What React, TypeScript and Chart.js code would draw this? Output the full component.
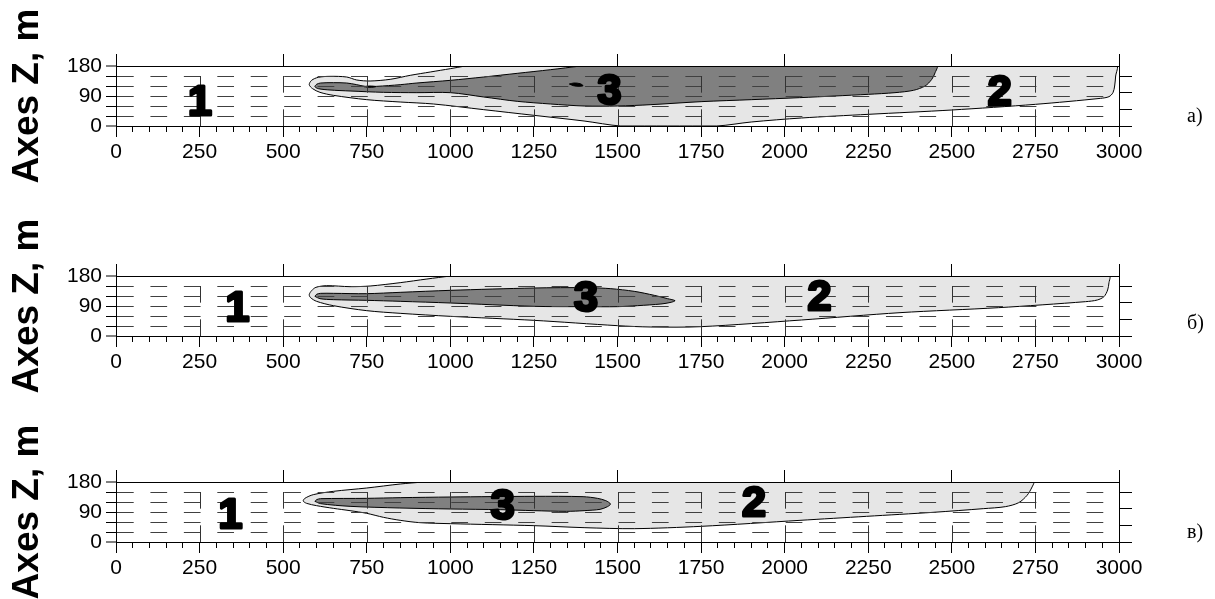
import React, { useEffect, useRef } from 'react';
import { Chart, registerables } from 'chart.js';

Chart.register(...registerables);

// ---------- axes ----------
const X_MIN = 0;
const X_MAX = 3000;
const Z_MIN = 0;
const Z_MAX = 180;
const X_MINOR_STEP = 50;
const X_MAJOR_STEP = 250;
const X_TOP_STEP = 500;
const Z_STEP = 30;
const Z_RIGHT_STEP = 50;
const DASH_UNITS = 50;
const X_LABELED = [0, 250, 500, 750, 1000, 1250, 1500, 1750, 2000, 2250, 2500, 2750, 3000];
const X_GRID = [250, 500, 750, 1000, 1250, 1500, 1750, 2000, 2250, 2500, 2750];
const Z_LABELED = [0, 90, 180];
const Y_TITLE = 'Axes Z, m';
const PANEL_NAMES = ['a)', 'б)', 'в)'];
const REGION_NAMES = ['1', '3', '2'];

// ---------- panel a ----------
const aLightX = [1045, 1700, 2400, 2993, 2990, 2987, 2982, 2970, 2945, 2750, 2500, 2250, 2050, 1900, 1797, 1650, 1510, 1400, 1250, 1100, 950, 850, 750, 650, 610, 588, 578, 585, 605, 640, 690, 720, 760, 820, 880, 940, 1000, 1045];
const aLightY = [180, 180, 180, 180, 150, 120, 100, 88, 83, 65, 48, 35, 24, 12, 0, 0, 0, 15, 32, 49, 66, 72, 79, 92, 101, 112, 124, 137, 146, 149, 147, 138, 135, 140, 152, 162, 172, 180];
const aDarkX = [1390, 1900, 2455, 2450, 2440, 2420, 2385, 2330, 2250, 2150, 2045, 1900, 1750, 1600, 1500, 1400, 1300, 1200, 1100, 1000, 900, 800, 700, 640, 605, 595, 600, 612, 650, 690, 720, 745, 780, 850, 900, 1000, 1100, 1200, 1300, 1390];
const aDarkY = [180, 180, 180, 160, 140, 120, 107, 100, 95, 90, 85, 79, 73, 64, 60, 60, 66, 74, 87, 100, 100, 101, 105, 108, 112, 118, 125, 129, 130, 129, 124, 119, 119, 124, 129, 137, 147, 158, 169, 180];
const aBlob1X = [742, 760, 777, 760, 742];
const aBlob1Y = [118, 120, 118, 116, 118];
const aBlob2X = [1356, 1370, 1388, 1397, 1385, 1368, 1356];
const aBlob2Y = [126, 129, 127, 121, 119, 121, 126];
const aLabelX = [251, 1476, 2643];
const aLabelY = [80, 113, 108];

// ---------- panel б ----------
const bLightX = [1000, 2000, 2971, 2970, 2966, 2955, 2935, 2900, 2640, 2345, 2050, 1750, 1600, 1500, 1250, 1000, 850, 750, 650, 600, 582, 578, 585, 598, 630, 700, 760, 850, 930, 1000];
const bLightY = [180, 180, 180, 160, 138, 118, 108, 103, 85, 70, 48, 28, 27, 31, 47, 59, 68, 76, 91, 104, 115, 124, 136, 146, 151, 148, 150, 160, 171, 180];
const bDarkX = [595, 600, 612, 650, 750, 850, 1000, 1250, 1410, 1480, 1550, 1610, 1650, 1672, 1660, 1630, 1560, 1500, 1400, 1250, 1000, 850, 750, 650, 610, 595];
const bDarkY = [119, 125, 128, 128, 127, 131, 137, 144, 145, 142, 134, 122, 112, 106, 101, 96, 91, 88, 88, 89, 99, 104, 107, 109, 112, 119];
const bLabelX = [363, 1406, 2104];
const bLabelY = [91, 121, 123];

// ---------- panel в ----------
const cLightX = [920, 1800, 2744, 2740, 2725, 2700, 2660, 2594, 2444, 2245, 2046, 1750, 1550, 1400, 1250, 1000, 909, 850, 800, 750, 700, 650, 600, 570, 560, 565, 590, 650, 750, 850, 920];
const cLightY = [180, 180, 180, 165, 140, 118, 106, 100, 89, 77, 65, 47, 40, 43, 49, 55, 58, 65, 74, 86, 94, 101, 109, 116, 123, 131, 142, 152, 162, 174, 180];
const cDarkX = [595, 600, 612, 750, 850, 1000, 1250, 1397, 1440, 1465, 1479, 1470, 1448, 1400, 1348, 1250, 1149, 1000, 849, 700, 612, 595];
const cDarkY = [122, 127, 130, 131, 133, 135, 137, 136, 131, 124, 114, 106, 98, 94, 92, 94, 97, 99, 102, 107, 115, 122];
const cLabelX = [342, 1157, 1908];
const cLabelY = [88, 115, 124];

// ---------- styling / layout ----------
const LIGHT = '#e6e6e6';
const DARK = '#808080';
const GRID_COLOR = '#404040';
const VGRID_COLOR = '#333333';
const PAGE_W = 1215;
const AREA_LEFT = 116;
const AREA_RIGHT = 1119;
const LETTER_X = 1187;

const PANELS = [
  { top: 0, height: 200, areaTop: 66, areaBottom: 126, letterUp: 9.5 },
  { top: 200, height: 200, areaTop: 76, areaBottom: 136, letterUp: 12.5 },
  { top: 400, height: 199, areaTop: 82, areaBottom: 142, letterUp: 9.5 },
];

const zip = (xs: number[], ys: number[]) => xs.map((x, i) => ({ x, y: ys[i] }));

const PANEL_DATA = [
  {
    regions: [
      { xs: aLightX, ys: aLightY, color: LIGHT, order: 3 },
      { xs: aDarkX, ys: aDarkY, color: DARK, order: 2 },
      { xs: aBlob1X, ys: aBlob1Y, color: '#000', order: 1 },
      { xs: aBlob2X, ys: aBlob2Y, color: '#000', order: 1 },
    ],
    labelX: aLabelX,
    labelY: aLabelY,
  },
  {
    regions: [
      { xs: bLightX, ys: bLightY, color: LIGHT, order: 3 },
      { xs: bDarkX, ys: bDarkY, color: DARK, order: 2 },
    ],
    labelX: bLabelX,
    labelY: bLabelY,
  },
  {
    regions: [
      { xs: cLightX, ys: cLightY, color: LIGHT, order: 3 },
      { xs: cDarkX, ys: cDarkY, color: DARK, order: 2 },
    ],
    labelX: cLabelX,
    labelY: cLabelY,
  },
];

const isMultiple = (v: number, step: number) => Math.abs(v / step - Math.round(v / step)) < 1e-6;

function buildConfig(index: number) {
  const layout = PANELS[index];
  const pdata = PANEL_DATA[index];
  const tickFont = { family: '"Liberation Sans", Arial, sans-serif', size: 21 };

  const isGridY = (c: any) => c && c.tick && c.tick.value > Z_MIN && c.tick.value < Z_MAX;

  const xUnitPx = (c: any, units: number) => {
    const xs = c.chart.scales.x;
    if (!xs) return 0;
    return Math.abs(xs.getPixelForValue(units) - xs.getPixelForValue(0));
  };

  const overlayPlugin = {
    id: 'panelOverlay' + index,
    afterDraw(chart: any) {
      const { ctx, chartArea, scales } = chart;
      const xs = scales.x;
      const ys = scales.y;

      // vertical dashed grid lines (dashes start at z = 0, drawn upward)
      const h = Math.abs(ys.getPixelForValue(Z_MIN) - ys.getPixelForValue(Z_MIN + DASH_UNITS));
      ctx.save();
      ctx.strokeStyle = VGRID_COLOR;
      ctx.lineWidth = 1;
      ctx.setLineDash([h, h]);
      ctx.lineDashOffset = 0;
      X_GRID.forEach((gx) => {
        const px = Math.round(xs.getPixelForValue(gx)) + 0.5;
        ctx.beginPath();
        ctx.moveTo(px, ys.getPixelForValue(Z_MIN));
        ctx.lineTo(px, ys.getPixelForValue(Z_MAX));
        ctx.stroke();
      });
      ctx.restore();

      // axis title
      ctx.save();
      ctx.fillStyle = '#000';
      ctx.font = 'bold 37px "Liberation Sans", Arial, sans-serif';
      ctx.textAlign = 'center';
      ctx.textBaseline = 'alphabetic';
      ctx.translate(38, (chartArea.top + chartArea.bottom) / 2);
      ctx.rotate(-Math.PI / 2);
      ctx.fillText(Y_TITLE, 0, 0);
      ctx.restore();

      // region numbers
      ctx.save();
      ctx.fillStyle = '#000';
      ctx.strokeStyle = '#000';
      ctx.lineWidth = 3;
      ctx.lineJoin = 'round';
      const size = 43;
      ctx.font = `bold ${size}px "Liberation Sans", Arial, sans-serif`;
      ctx.textAlign = 'center';
      ctx.textBaseline = 'alphabetic';
      REGION_NAMES.forEach((name, i) => {
        const px = xs.getPixelForValue(pdata.labelX[i]);
        const py = ys.getPixelForValue(pdata.labelY[i]) + size * 0.358;
        ctx.strokeText(name, px, py);
        ctx.fillText(name, px, py);
      });
      ctx.restore();

      // panel letter
      ctx.save();
      ctx.fillStyle = '#000';
      ctx.font = '20px "Liberation Serif", "Times New Roman", serif';
      ctx.textAlign = 'left';
      ctx.textBaseline = 'middle';
      ctx.fillText(PANEL_NAMES[index], LETTER_X, chartArea.bottom - layout.letterUp);
      ctx.restore();
    },
  };

  const regionSets = pdata.regions.map((r) => ({
    type: 'line',
    data: zip(r.xs, r.ys),
    borderColor: '#000',
    borderWidth: 1,
    backgroundColor: r.color,
    fill: 'shape',
    pointRadius: 0,
    pointHoverRadius: 0,
    tension: 0.3,
    order: r.order,
  }));

  return {
    type: 'line',
    data: { datasets: regionSets },
    options: {
      responsive: false,
      maintainAspectRatio: false,
      animation: false,
      devicePixelRatio: 1,
      events: [],
      layout: { padding: 0 },
      plugins: {
        legend: { display: false },
        tooltip: { enabled: false },
        title: { display: false },
      },
      scales: {
        x: {
          type: 'linear',
          position: 'bottom',
          min: X_MIN,
          max: X_MAX,
          afterFit: (s: any) => {
            s.height = layout.height - layout.areaBottom;
          },
          ticks: {
            stepSize: X_MINOR_STEP,
            autoSkip: false,
            maxRotation: 0,
            minRotation: 0,
            padding: 3,
            color: '#000',
            font: tickFont,
            callback: (v: any) => (X_LABELED.includes(Number(v)) ? String(v) : ''),
          },
          grid: {
            display: true,
            drawOnChartArea: false,
            drawTicks: true,
            z: 1,
            tickLength: 11,
            color: '#000',
            lineWidth: 1,
            tickColor: '#000',
            tickWidth: 1,
            tickBorderDash: (c: any) => (c.tick && isMultiple(c.tick.value, X_MAJOR_STEP) ? [] : [5, 40]),
          },
          border: { display: true, color: '#000', width: 1, z: 2 },
        },
        x2: {
          type: 'linear',
          position: 'top',
          min: X_MIN,
          max: X_MAX,
          afterFit: (s: any) => {
            s.height = layout.areaTop;
          },
          ticks: { display: false, stepSize: X_TOP_STEP },
          grid: {
            drawOnChartArea: false,
            drawTicks: true,
            tickLength: 12,
            color: '#000',
            tickColor: '#000',
            lineWidth: 1,
            tickWidth: 1,
            z: 1,
          },
          border: { display: true, color: '#000', width: 1, z: 2 },
        },
        y: {
          type: 'linear',
          position: 'left',
          min: Z_MIN,
          max: Z_MAX,
          afterFit: (s: any) => {
            s.width = AREA_LEFT;
          },
          ticks: {
            stepSize: Z_STEP,
            autoSkip: false,
            padding: 4,
            color: '#000',
            font: tickFont,
            callback: (v: any) => (Z_LABELED.includes(Number(v)) ? String(v) : ''),
          },
          grid: {
            z: 1,
            drawTicks: true,
            tickLength: 10,
            color: (c: any) => (isGridY(c) ? GRID_COLOR : 'rgba(0,0,0,0)'),
            lineWidth: (c: any) => (isGridY(c) ? 1 : 0),
            tickColor: '#000',
            tickWidth: 1,
          },
          border: {
            display: true,
            color: '#000',
            width: 1,
            z: 2,
            dash: (c: any) => {
              const w = xUnitPx(c, DASH_UNITS);
              return w > 0 ? [w, w] : [];
            },
            dashOffset: 0,
          },
        },
        y2: {
          type: 'linear',
          position: 'right',
          min: Z_MIN,
          max: Z_MAX,
          afterFit: (s: any) => {
            s.width = PAGE_W - AREA_RIGHT;
          },
          ticks: { display: false, stepSize: Z_RIGHT_STEP, includeBounds: false },
          grid: {
            drawOnChartArea: false,
            drawTicks: true,
            tickLength: 13,
            color: '#000',
            tickColor: '#000',
            lineWidth: 1,
            tickWidth: 1,
            z: 1,
          },
          border: { display: true, color: '#000', width: 1, z: 2 },
        },
      },
    },
    plugins: [overlayPlugin],
  };
}

function Panel({ index }: { index: number }) {
  const ref = useRef<HTMLCanvasElement | null>(null);
  const layout = PANELS[index];
  useEffect(() => {
    if (!ref.current) return;
    const chart = new Chart(ref.current, buildConfig(index) as any);
    return () => chart.destroy();
  }, [index]);
  return (
    <canvas
      ref={ref}
      width={PAGE_W}
      height={layout.height}
      style={{ position: 'absolute', left: 0, top: layout.top, width: PAGE_W, height: layout.height, display: 'block' }}
    />
  );
}

export default function App() {
  return (
    <div
      style={{
        position: 'absolute',
        left: 0,
        top: 0,
        width: PAGE_W,
        height: 599,
        background: '#fff',
        overflow: 'hidden',
      }}
    >
      {PANELS.map((_, i) => (
        <Panel key={i} index={i} />
      ))}
    </div>
  );
}
